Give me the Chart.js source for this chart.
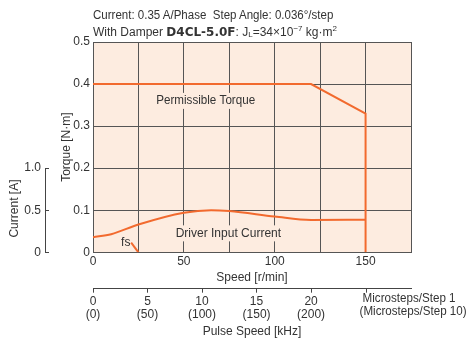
<!DOCTYPE html>
<html><head><meta charset="utf-8">
<script src="https://cdn.jsdelivr.net/npm/chart.js@4/dist/chart.umd.min.js"></script>
<style>
html,body{margin:0;padding:0;background:#fff;}
#wrap{position:relative;width:469px;height:341px;overflow:hidden;}
canvas{position:absolute;left:0;top:0;}
.hd{position:absolute;left:93px;font-family:"Liberation Sans",Arial,sans-serif;font-size:12px;color:#333;white-space:nowrap;line-height:14px;transform-origin:0 0;}
.hd b{font-family:"DejaVu Sans","Liberation Sans",sans-serif;font-weight:bold;font-size:12px;}
.hd sub{font-size:8px;vertical-align:-1px;}
.hd sup{font-size:8px;vertical-align:5px;}
</style></head>
<body><div id="wrap">
<canvas id="c" width="469" height="341"></canvas>
<div class="hd" style="top:8px;transform:scaleX(0.96);">Current: 0.35 A/Phase&nbsp; Step Angle: 0.036°/step</div>
<div class="hd" style="top:22px;">With Damper <b>D4CL-5.0F</b>: J<sub>L</sub>=34×10<sup>−7</sup> kg·m<sup>2</sup></div>
</div>
<script>
// Data
const torqueSpeed = [0, 120, 150, 150];
const torqueValues = [0.4, 0.4, 0.33, 0];
const currentSpeed = [0, 10, 25, 50, 65, 75, 100, 120, 150];
const currentValues = [0.18, 0.215, 0.33, 0.47, 0.5, 0.49, 0.425, 0.383, 0.387];
const fsSpeed = [21, 25];
const fsTorque = [0.023, 0];
const speedTicks = [0, 50, 100, 150];
const pulseTicks = [0, 5, 10, 15, 20];
const pulseTickLabels = [["0","(0)"],["5","(50)"],["10","(100)"],["15","(150)"],["20","(200)"]];
const currentTicks = [0, 0.5, 1.0];

const FONT = "'Liberation Sans',Arial,sans-serif";
const ORANGE = '#f26a2e';
const TXT = '#333';
const BG = '#fdece0';
const zip = (xs, ys) => xs.map((x, i) => ({x, y: ys[i]}));

const decor = {
  id: 'decor',
  beforeDraw(chart) {
    const {ctx, chartArea: a} = chart;
    ctx.save();
    ctx.fillStyle = BG;
    ctx.fillRect(a.left, a.top, a.right - a.left, a.bottom - a.top);
    ctx.restore();
  },
  afterDatasetsDraw(chart) {
    const {ctx, scales} = chart;
    const x = scales.x, y = scales.y, y2 = scales.y2, x2 = scales.x2;
    ctx.save();
    ctx.font = "12px " + FONT;
    ctx.textBaseline = 'middle';
    const boxed = (t, sx, sy, mw) => {
      const px = x.getPixelForValue(sx), py = y.getPixelForValue(sy);
      const w = Math.min(ctx.measureText(t).width, mw);
      ctx.fillStyle = BG;
      ctx.fillRect(px - w/2 - 3, py - 8, w + 6, 16);
      ctx.fillStyle = TXT;
      ctx.textAlign = 'center';
      ctx.fillText(t, px, py, mw);
    };
    boxed('Permissible Torque', 62, 0.36, 99);
    boxed('Driver Input Current', 74.5, 0.045, 130);
    ctx.fillStyle = TXT; ctx.textAlign = 'center';
    ctx.fillText('fs', x.getPixelForValue(18), y.getPixelForValue(0.022));
    // current axis line (0 to 1.0) and its title
    const lx = y2.right - 3;
    ctx.strokeStyle = '#444'; ctx.lineWidth = 1;
    ctx.beginPath();
    ctx.moveTo(lx + 0.5, y2.getPixelForValue(0));
    ctx.lineTo(lx + 0.5, y2.getPixelForValue(1.0));
    currentTicks.forEach(v => {
      const py = Math.round(y2.getPixelForValue(v)) + 0.5;
      ctx.moveTo(lx, py); ctx.lineTo(lx + 4, py);
    });
    ctx.stroke();
    ctx.save();
    ctx.translate(y2.left + 15, y2.getPixelForValue(0.52));
    ctx.rotate(-Math.PI / 2);
    ctx.fillText('Current [A]', 0, 0);
    ctx.restore();
    // pulse axis end label
    ctx.textAlign = 'left'; ctx.textBaseline = 'middle';
    const p25 = x2.getPixelForValue(25);
    ctx.fillText('Microsteps/Step 1', p25 - 3, x2.top + 10, 93);
    ctx.fillText('(Microsteps/Step 10)', p25 - 6, x2.top + 23, 107);
    ctx.beginPath();
    ctx.moveTo(Math.round(p25) + 0.5, x2.top); ctx.lineTo(Math.round(p25) + 0.5, x2.top + 4);
    ctx.stroke();
    ctx.restore();
  }
};

new Chart(document.getElementById('c'), {
  type: 'line',
  data: {
    datasets: [
      {data: zip(torqueSpeed, torqueValues), yAxisID: 'y', borderColor: ORANGE, borderWidth: 2, pointRadius: 0, tension: 0},
      {data: zip(currentSpeed, currentValues), yAxisID: 'y2', borderColor: ORANGE, borderWidth: 2, pointRadius: 0, cubicInterpolationMode: 'monotone'},
      {data: zip(fsSpeed, fsTorque), yAxisID: 'y', borderColor: ORANGE, borderWidth: 2, pointRadius: 0}
    ]
  },
  options: {
    responsive: false, animation: false, devicePixelRatio: 1,
    layout: {padding: {top: 42, right: 58, left: 0, bottom: 0}},
    plugins: {legend: {display: false}, tooltip: {enabled: false}},
    scales: {
      x: {
        type: 'linear', position: 'bottom', min: 0, max: 175,
        afterBuildTicks: s => { s.ticks = [0,25,50,75,100,125,150,175].map(v => ({value: v})); },
        ticks: {color: TXT, font: {family: FONT, size: 12, lineHeight: 1.0}, padding: 3,
          callback: v => speedTicks.includes(v) ? String(v) : ''},
        grid: {color: '#555', drawTicks: false},
        border: {color: '#555'},
        title: {display: true, text: 'Speed [r/min]', color: TXT, font: {family: FONT, size: 12}, padding: {top: 0, bottom: 4}}
      },
      x2: {
        type: 'linear', position: 'bottom', min: 0, max: 175/6,
        afterBuildTicks: s => { s.ticks = pulseTicks.map(v => ({value: v})); },
        ticks: {color: TXT, font: {family: FONT, size: 12, lineHeight: 1.08}, padding: 3,
          callback: (v) => pulseTickLabels[pulseTicks.indexOf(v)]},
        grid: {display: true, drawOnChartArea: false, drawTicks: true, tickLength: 4, color: '#444'},
        border: {color: '#444'},
        title: {display: true, text: 'Pulse Speed [kHz]', color: TXT, font: {family: FONT, size: 12}, padding: {top: 0, bottom: 2}}
      },
      y: {
        position: 'left', min: 0, max: 0.5, weight: 1,
        afterFit: s => { s.width = 45; },
        ticks: {stepSize: 0.1, color: TXT, font: {family: FONT, size: 12}, padding: 3,
          callback: v => v === 0 ? '0' : v.toFixed(1)},
        grid: {color: '#555', drawTicks: false},
        border: {color: '#555'},
        title: {display: true, text: 'Torque [N·m]', color: TXT, font: {family: FONT, size: 12}, padding: {top: 11, bottom: 0}}
      },
      y2: {
        position: 'left', min: 0, max: 2.5, weight: 2,
        afterFit: s => { s.width = 48; },
        afterBuildTicks: s => { s.ticks = currentTicks.map(v => ({value: v})); },
        ticks: {color: TXT, font: {family: FONT, size: 12}, padding: 7,
          callback: v => v === 0 ? '0' : v.toFixed(1)},
        grid: {display: false, drawTicks: false},
        border: {display: false},
        title: {display: false}
      }
    }
  },
  plugins: [decor]
});
</script>
</body></html>
